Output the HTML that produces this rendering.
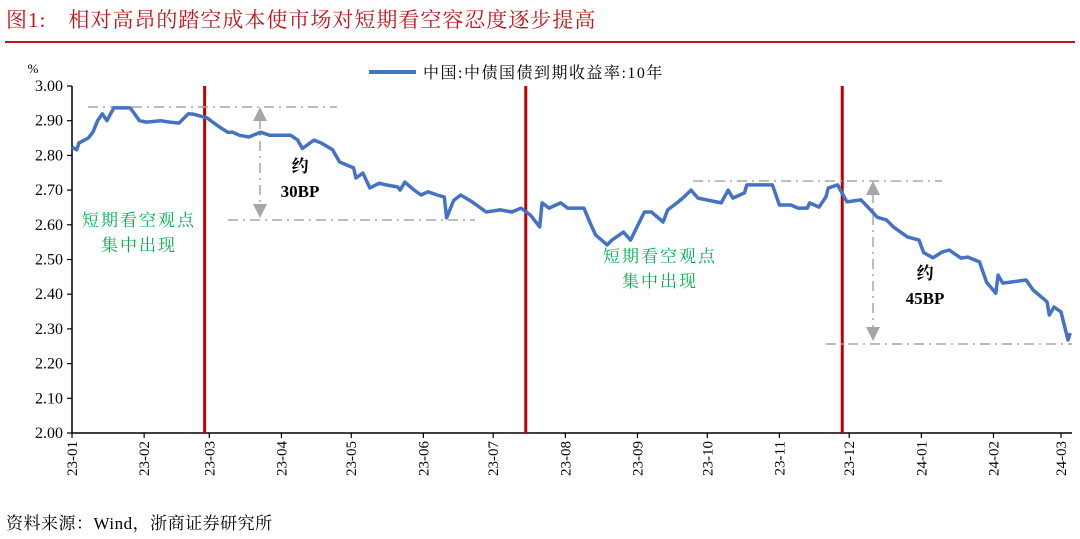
<!DOCTYPE html>
<html><head><meta charset="utf-8"><style>
body{margin:0;background:#fff;}
svg{display:block;font-family:"Liberation Serif","Noto Serif CJK SC",serif;}
</style></head><body>
<svg id="chart" width="1080" height="539" viewBox="0 0 1080 539" xmlns="http://www.w3.org/2000/svg">
<text x="6" y="27" font-size="21" fill="#c0141c" letter-spacing="1" font-family="Liberation Serif, Noto Serif CJK SC, serif">图1:　相对高昂的踏空成本使市场对短期看空容忍度逐步提高</text>
<rect x="5" y="41" width="1070" height="2" fill="#c0141c"/>
<text x="33" y="73" font-size="13" text-anchor="middle">%</text>
<g>
<line x1="369" y1="72" x2="416" y2="72" stroke="#4472c4" stroke-width="4"/>
<text x="423" y="78" font-size="16" letter-spacing="1.5">中国:中债国债到期收益率:10年</text>
</g>
<g id="axes"></g>
<g id="annot"></g>
<g id="series"></g>
<text x="6" y="529" font-size="17" letter-spacing="0.5">资料来源：Wind，浙商证券研究所</text>
</svg>
<script>
const days=[0,2,3,7,9,11,13,15,17,18,25,29,32,38,42,46,50,52,58,64,67,69,72,76,81,85,94,97,99,104,107,112,115,121,122,125,128,132,135,140,141,143,147,150,153,157,160,161,164,167,172,178,184,189,193,197,201,202,205,210,213,220,223,225,230,232,237,240,246,249,254,256,260,263,266,269,279,282,284,289,290,297,301,304,309,312,316,317,321,324,325,329,333,339,344,346,350,353,359,364,366,370,374,377,382,385,390,393,397,398,400,410,413,419,420,422,425,428,429];
const yields=[2.824,2.816,2.836,2.85,2.867,2.90,2.92,2.90,2.925,2.937,2.937,2.90,2.896,2.90,2.896,2.893,2.92,2.919,2.908,2.879,2.867,2.867,2.858,2.853,2.867,2.858,2.858,2.844,2.82,2.844,2.836,2.816,2.781,2.764,2.735,2.749,2.706,2.72,2.715,2.709,2.70,2.723,2.70,2.686,2.695,2.686,2.68,2.62,2.67,2.686,2.666,2.637,2.643,2.637,2.648,2.628,2.594,2.663,2.648,2.663,2.648,2.648,2.60,2.571,2.542,2.556,2.579,2.556,2.637,2.637,2.608,2.643,2.663,2.68,2.70,2.677,2.663,2.70,2.677,2.692,2.715,2.715,2.715,2.657,2.657,2.648,2.648,2.663,2.651,2.68,2.706,2.715,2.666,2.672,2.637,2.622,2.614,2.594,2.565,2.556,2.52,2.505,2.522,2.527,2.504,2.507,2.493,2.435,2.403,2.455,2.432,2.441,2.412,2.378,2.34,2.363,2.349,2.268,2.288];
const monthLabels=["23-01","23-02","23-03","23-04","23-05","23-06","23-07","23-08","23-09","23-10","23-11","23-12","24-01","24-02","24-03"];
const monthDays=[0,31,59,90,120,151,181,212,243,273,304,334,365,396,425];
const yTicks=[2.00,2.10,2.20,2.30,2.40,2.50,2.60,2.70,2.80,2.90,3.00];
const eventDays=[57,195,331];
const NS="http://www.w3.org/2000/svg";
const X0=72,PXD=2.327,Y0=433,Y1=86;
function xs(d){return X0+d*PXD;}
function ys(v){return Y0-(v-2)*(Y0-Y1)/1.0;}
function mk(tag,attrs,parent,txt){const e=document.createElementNS(NS,tag);for(const k in attrs)e.setAttribute(k,attrs[k]);if(txt!==undefined)e.textContent=txt;parent.appendChild(e);return e;}
const axes=document.getElementById('axes'),annot=document.getElementById('annot'),series=document.getElementById('series');
let e;
e=mk('line',{x1:X0,y1:Y1,x2:X0,y2:Y0,stroke:'#000','stroke-width':1.5},axes);


e=mk('line',{x1:X0,y1:Y0,x2:1072,y2:Y0,stroke:'#000','stroke-width':1.5},axes);


yTicks.forEach(v=>{
 const y=ys(v);
 mk('line',{x1:X0-5,y1:y,x2:X0,y2:y,stroke:'#000','stroke-width':1.2},axes);
 e=mk('text',{x:X0-9,y:y+5,'font-size':16,'text-anchor':'end'},axes,v.toFixed(2));
 
 
});
monthDays.forEach((d,i)=>{
 const x=xs(d);
 mk('line',{x1:x,y1:Y0,x2:x,y2:Y0+5,stroke:'#000','stroke-width':1.2},axes);
 e=mk('text',{x:0,y:0,'font-size':15,'text-anchor':'end',transform:`translate(${x+5},${Y0+8}) rotate(-90)`},axes,monthLabels[i]);
 
 
});
eventDays.forEach(d=>{
 e=mk('line',{x1:xs(d),y1:86,x2:xs(d),y2:Y0,stroke:'#c00000','stroke-width':3},annot);
 
 
});
const dash='10,5,2,5';
function hline(x1,x2,y){e=mk('line',{x1:x1,y1:y,x2:x2,y2:y,stroke:'#a6a6a6','stroke-width':1.5,'stroke-dasharray':dash},annot);}
hline(88,337,107);hline(228,475,220);hline(693,942,181);hline(826,1072,344);
function arrow(x,yt,yb){
 e=mk('line',{x1:x,y1:yt+12,x2:x,y2:yb-12,stroke:'#a6a6a6','stroke-width':1.5,'stroke-dasharray':dash},annot);
 
 
 mk('polygon',{points:`${x-7},${yt+14} ${x+7},${yt+14} ${x},${yt}`,fill:'#a6a6a6'},annot);
 mk('polygon',{points:`${x-7},${yb-14} ${x+7},${yb-14} ${x},${yb}`,fill:'#a6a6a6'},annot);
}
arrow(260,107,218);arrow(873,181,341);
function txt(x,y,s,fill,name,bold){e=mk('text',{x:x,y:y,'font-size':17,'text-anchor':'middle',fill:fill,'font-weight':bold?'bold':'normal','letter-spacing':bold?0:2},annot,s);}
txt(300,172,'约','#000','bp-note-1',true);txt(300,197,'30BP','#000','bp-note-1',true);
txt(925,279,'约','#000','bp-note-2',true);txt(925,304,'45BP','#000','bp-note-2',true);
txt(139,226,'短期看空观点','#00b050','bearish-note-1');txt(139,251,'集中出现','#00b050','bearish-note-1');
txt(660,262,'短期看空观点','#00b050','bearish-note-2');txt(660,287,'集中出现','#00b050','bearish-note-2');
const pts=days.map((d,i)=>xs(d).toFixed(1)+','+ys(yields[i]).toFixed(1)).join(' ');
e=mk('polyline',{points:pts,fill:'none',stroke:'#4472c4','stroke-width':3.5,'stroke-linejoin':'round'},series);


</script>
</body></html>
